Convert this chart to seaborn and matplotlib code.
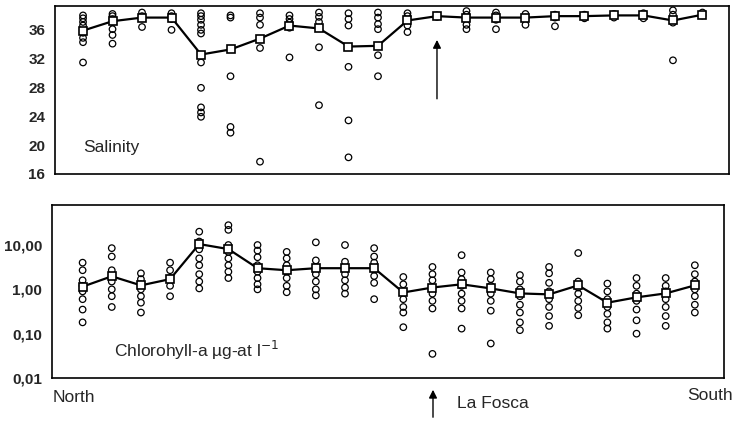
import numpy as np
import pandas as pd
import matplotlib
matplotlib.use("Agg")
import matplotlib.pyplot as plt
import seaborn as sns

sns.set_theme(style="white")
plt.rcParams['font.family'] = ['Liberation Sans', 'DejaVu Sans']

stations = list(range(1, 23))

# Salinity: individual samples per station
sal_samples = [
    [37.9, 37.5, 37.0, 36.5, 35.5, 34.8, 34.2, 31.4],
    [38.1, 37.8, 37.4, 37.0, 36.0, 35.2, 34.0],
    [38.3, 37.8, 37.5, 36.3],
    [38.2, 37.8, 37.4, 35.9],
    [38.2, 37.8, 37.3, 36.6, 35.9, 35.4, 31.4, 27.9, 25.2, 24.5, 23.9],
    [37.9, 37.6, 29.5, 22.5, 21.7],
    [38.2, 37.6, 36.6, 33.4, 17.7],
    [37.9, 37.4, 36.9, 36.2, 32.1],
    [38.3, 37.7, 37.0, 36.2, 33.5, 25.5],
    [38.2, 37.4, 36.5, 30.8, 23.4, 18.3],
    [38.3, 37.6, 36.7, 36.0, 32.4, 29.5],
    [38.2, 37.8, 37.3, 36.5, 35.6],
    [37.9, 37.7],
    [38.5, 38.0, 37.5, 36.6, 36.0],
    [38.3, 37.9, 37.3, 36.0],
    [38.1, 37.6, 36.6],
    [38.0, 37.6, 36.4],
    [38.0, 37.5],
    [38.1, 37.6],
    [38.2, 37.5],
    [38.6, 38.0, 36.9, 31.7],
    [38.3, 37.9],
]
sal_mean = [35.8, 37.1, 37.6, 37.6, 32.5, 33.2, 34.7, 36.5, 36.1, 33.6, 33.7,
            37.2, 37.8, 37.6, 37.6, 37.6, 37.8, 37.8, 37.9, 37.9, 37.2, 38.0]

# Chlorophyll-a: individual samples per station
chl_samples = [
    [4.0, 2.7, 1.6, 1.2, 0.9, 0.6, 0.35, 0.18],
    [8.5, 5.5, 2.7, 2.0, 1.5, 1.0, 0.7, 0.4],
    [2.3, 1.7, 1.3, 1.0, 0.7, 0.5, 0.3],
    [4.0, 2.7, 1.8, 1.2, 0.7],
    [20, 12, 8, 5, 3.5, 2.2, 1.5, 1.05],
    [28, 22, 10, 7, 5, 3.5, 2.5, 1.8],
    [10, 7.5, 5.3, 3.5, 2.5, 1.8, 1.3, 1.0],
    [7, 5, 3.5, 2.5, 1.8, 1.2, 0.86],
    [11.5, 4.5, 3.2, 2.2, 1.5, 1.0, 0.73],
    [10, 4.2, 3.0, 2.2, 1.6, 1.1, 0.8],
    [8.5, 5.5, 4.0, 2.8, 2.0, 1.4, 0.6],
    [1.9, 1.3, 0.9, 0.6, 0.4, 0.3, 0.14],
    [3.2, 2.2, 1.6, 1.1, 0.8, 0.55, 0.37, 0.035],
    [5.9, 2.4, 1.7, 1.2, 0.8, 0.55, 0.37, 0.13],
    [2.4, 1.7, 1.2, 0.8, 0.55, 0.33, 0.06],
    [2.1, 1.5, 1.0, 0.7, 0.45, 0.3, 0.18, 0.12],
    [3.2, 2.3, 1.4, 0.9, 0.6, 0.4, 0.25, 0.15],
    [6.6, 1.5, 1.1, 0.8, 0.55, 0.38, 0.26],
    [1.35, 0.9, 0.6, 0.4, 0.28, 0.18, 0.13],
    [1.8, 1.2, 0.8, 0.55, 0.35, 0.2, 0.1],
    [1.8, 1.2, 0.9, 0.6, 0.4, 0.25, 0.15],
    [3.5, 2.2, 1.5, 1.0, 0.7, 0.45, 0.3],
]
chl_mean = [1.15, 1.97, 1.23, 1.7, 10.5, 8.1, 3.0, 2.7, 3.0, 3.0, 3.0,
            0.85, 1.1, 1.3, 1.05, 0.81, 0.77, 1.23, 0.5, 0.66, 0.81, 1.23]

sal_ticks = [16, 20, 24, 28, 32, 36]
chl_ticks = [0.01, 0.1, 1, 10]
chl_ticklabels = ["0,01", "0,10", "1,00", "10,00"]
la_fosca_station = 13


def long_df(samples):
    rows = [(s, v) for s, vals in zip(stations, samples) for v in vals]
    return pd.DataFrame(rows, columns=["station", "value"])


sal_df = long_df(sal_samples)
chl_df = long_df(chl_samples)
sal_mean_df = pd.DataFrame({"station": stations, "value": sal_mean})
chl_mean_df = pd.DataFrame({"station": stations, "value": chl_mean})

W, H = 735, 422
fig = plt.figure(figsize=(W / 100, H / 100), dpi=100)


def ax_at(l, t, r, b):
    return fig.add_axes([l / W, 1 - b / H, (r - l) / W, (b - t) / H])


ax1 = ax_at(55, 6, 729, 174)
ax2 = ax_at(52, 205, 724, 378)

for ax, df, mdf in [(ax1, sal_df, sal_mean_df), (ax2, chl_df, chl_mean_df)]:
    sns.scatterplot(data=df, x="station", y="value", ax=ax, marker="o", s=22,
                    facecolor="none", edgecolor="black", linewidth=0.9, legend=False)
    sns.lineplot(data=mdf, x="station", y="value", ax=ax, color="black",
                 linewidth=1.6, marker="s", markersize=6, markerfacecolor="white",
                 markeredgecolor="black", markeredgewidth=1.2, legend=False)
    for sp in ax.spines.values():
        sp.set_color("black")
        sp.set_linewidth(1.2)
    ax.set_xlabel("")
    ax.set_ylabel("")
    ax.set_xticks(stations)
    ax.set_xticklabels([])
    ax.tick_params(axis="x", direction="in", length=3, width=0.8, color="black")
    ax.tick_params(axis="y", direction="out", length=3, width=0.8, color="black",
                   labelsize=11, pad=4)

ax1.set_xlim(0.05, 22.9)
ax1.set_ylim(16, 39.2)
ax1.set_yticks(sal_ticks)
ax1.set_yticklabels([str(t) for t in sal_ticks], fontweight="bold")

ax2.set_yscale("log")
ax2.set_xlim(-0.05, 23.0)
ax2.set_ylim(0.01, 80)
ax2.set_yticks(chl_ticks)
ax2.set_yticklabels(chl_ticklabels, fontweight="bold")
ax2.minorticks_off()

ax1.text(0.042, 0.155, "Salinity", transform=ax1.transAxes, fontsize=12.5,
         ha="left", va="center")
ax2.text(0.093, 0.16, "Chlorohyll-a µg-at l$^{-1}$", transform=ax2.transAxes,
         fontsize=12.5, ha="left", va="center")

# La Fosca arrows
ax1.annotate("", xy=(la_fosca_station, 34.9), xytext=(la_fosca_station, 26.0),
             arrowprops=dict(arrowstyle="-|>", color="black", lw=1.0,
                             mutation_scale=12))
fig.text(53 / W, 1 - 398 / H, "North", fontsize=12.5, ha="left", va="center")
fig.text(733 / W, 1 - 395 / H, "South", fontsize=12.5, ha="right", va="center")
fig.text(457 / W, 1 - 403 / H, "La Fosca", fontsize=12.5, ha="left", va="center")
fig.patches.append(matplotlib.patches.FancyArrowPatch(
    (433 / W, 1 - 420 / H), (433 / W, 1 - 387 / H), transform=fig.transFigure,
    arrowstyle="-|>", mutation_scale=12, color="black", lw=1.0))

fig.savefig("out.png", dpi=100, facecolor="white")
